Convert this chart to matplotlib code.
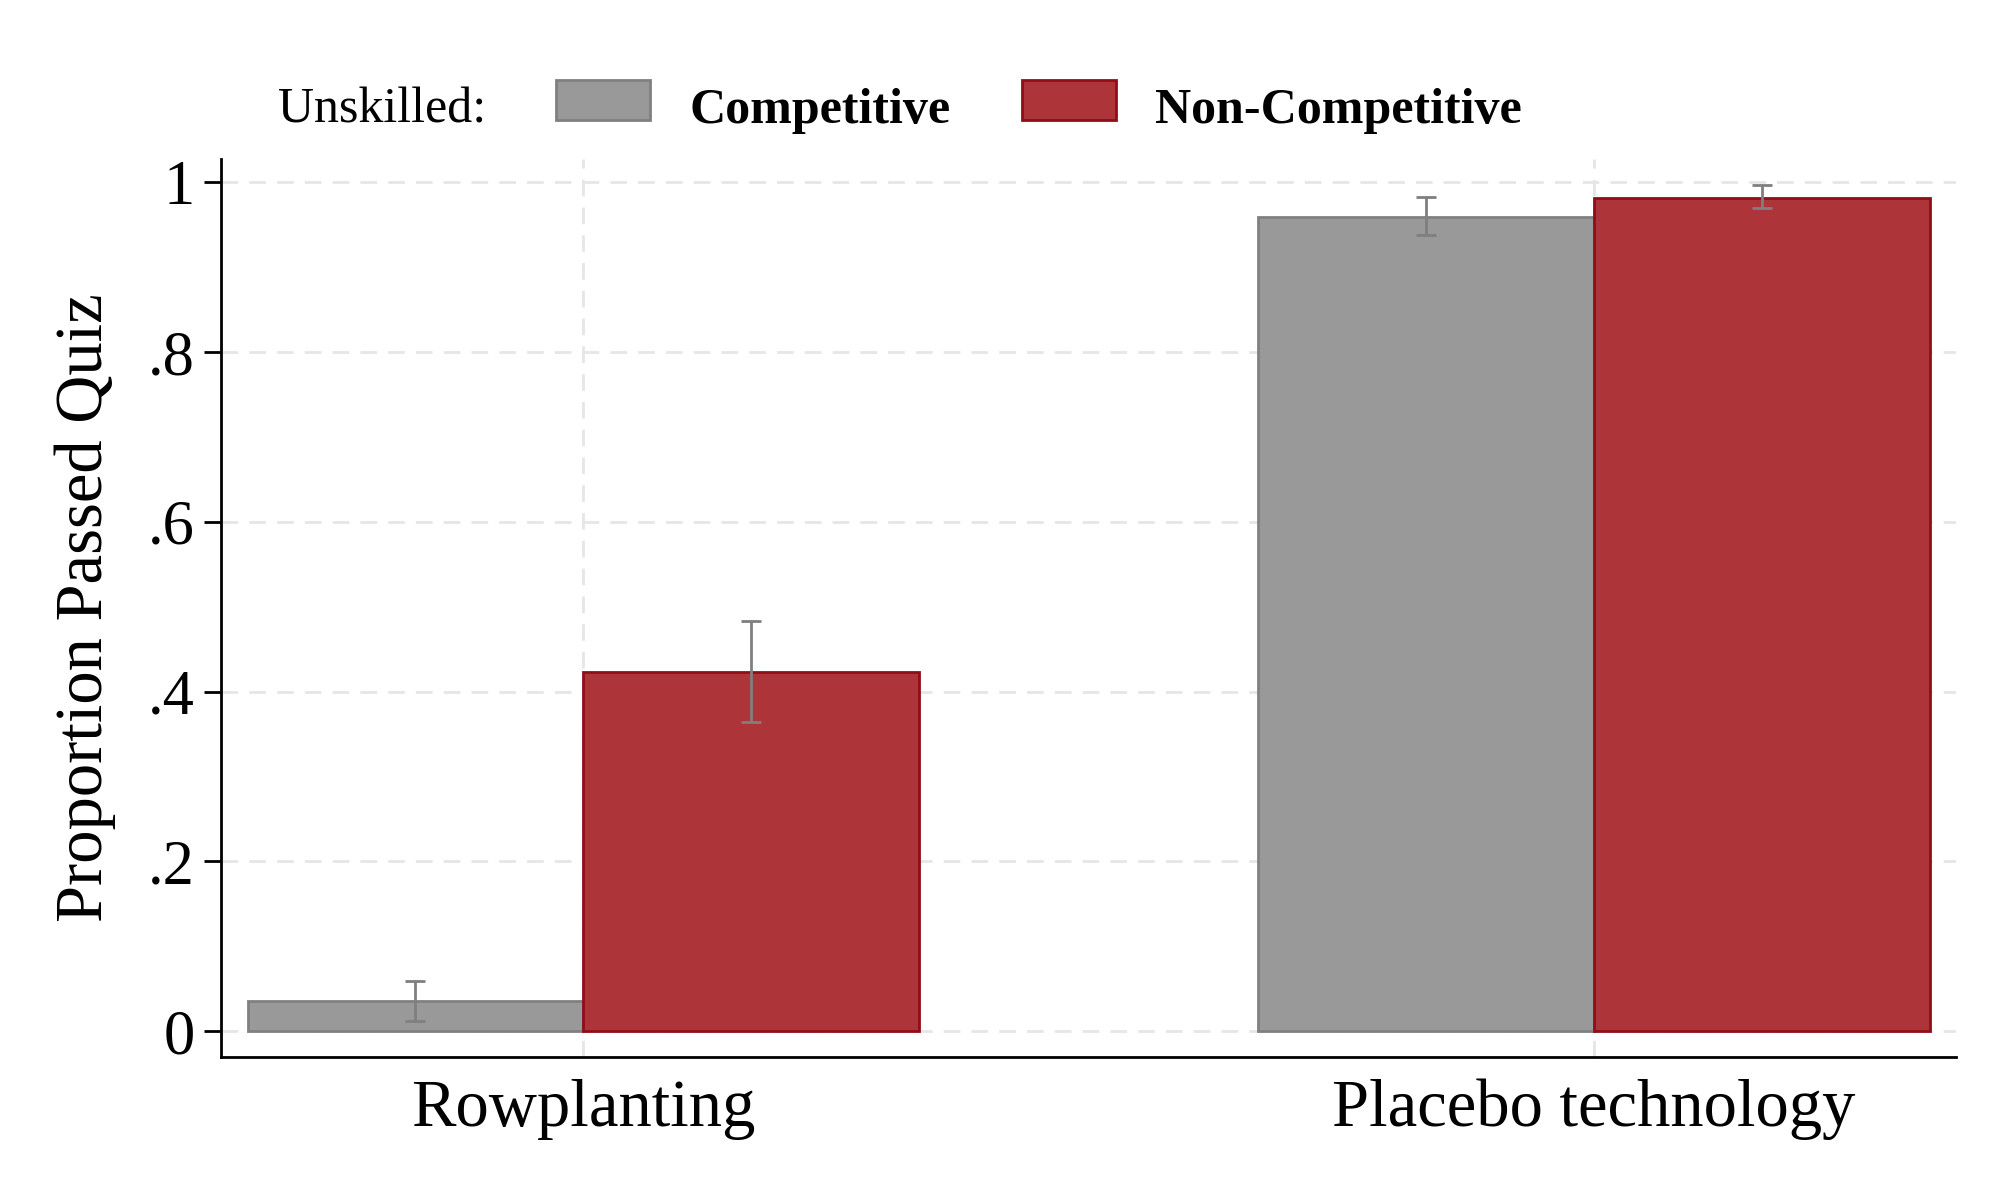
import matplotlib
matplotlib.use("Agg")
import matplotlib.pyplot as plt
from matplotlib.patches import Rectangle
import numpy as np

categories = ["Rowplanting", "Placebo technology"]
series_names = ["Competitive", "Non-Competitive"]
competitive = [0.036, 0.959]
competitive_lo = [0.012, 0.938]
competitive_hi = [0.059, 0.983]
noncompetitive = [0.423, 0.982]
noncompetitive_lo = [0.364, 0.970]
noncompetitive_hi = [0.483, 0.997]
yticks = [0, 0.2, 0.4, 0.6, 0.8, 1.0]
ytick_labels = ["0", ".2", ".4", ".6", ".8", "1"]

gray_fill = "#999999"
gray_edge = "#808080"
red_fill = "#AD353A"
red_edge = "#900D1A"
err_color = "#7F7F7F"

plt.rcParams["font.family"] = ["Liberation Serif", "DejaVu Serif"]

fig = plt.figure(figsize=(20, 12.01), dpi=100)
ax = fig.add_axes([0.1104, 0.1203, 0.978 - 0.1104, 0.8672 - 0.1203])

x = np.arange(len(categories))
w = 0.332

comp = np.array(competitive)
nonc = np.array(noncompetitive)
comp_err = np.array([comp - np.array(competitive_lo), np.array(competitive_hi) - comp])
nonc_err = np.array([nonc - np.array(noncompetitive_lo), np.array(noncompetitive_hi) - nonc])

ax.set_axisbelow(True)
ax.bar(x - w / 2, comp, width=w, color=gray_fill, edgecolor=gray_edge, linewidth=2, zorder=2)
ax.bar(x + w / 2, nonc, width=w, color=red_fill, edgecolor=red_edge, linewidth=2, zorder=2)
ax.errorbar(x - w / 2, comp, yerr=comp_err, fmt="none", ecolor=err_color, elinewidth=2,
            capsize=7, capthick=2, zorder=3)
ax.errorbar(x + w / 2, nonc, yerr=nonc_err, fmt="none", ecolor=err_color, elinewidth=2,
            capsize=7, capthick=2, zorder=3)

ax.set_xlim(-0.3585, 1.358)
ax.set_ylim(-0.030, 1.027)
ax.set_xticks(x)
ax.set_xticklabels(categories, fontsize=48)
ax.set_yticks(yticks)
ax.set_yticklabels(ytick_labels, fontsize=45)
ax.tick_params(axis="x", length=0, pad=16)
ax.tick_params(axis="y", length=12, width=2, pad=7)

ax.grid(True, axis="both", color="#E6E6E6", linestyle=(0, (6, 4)), linewidth=2)

for s in ["top", "right"]:
    ax.spines[s].set_visible(False)
for s in ["left", "bottom"]:
    ax.spines[s].set_linewidth(2)
    ax.spines[s].set_color("black")

ax.set_ylabel("Proportion Passed Quiz", fontsize=48)
ax.yaxis.set_label_coords(-0.0605, 0.5)

# Legend (drawn manually to match layout)
base_y = 0.898
fig.text(0.139, base_y, "Unskilled:", fontsize=36, va="baseline", ha="left")
box_w, box_h, box_y = 0.0468, 0.033, 0.9001
for bx, tx, name, fc, ec in [(0.278, 0.3445, series_names[0], gray_fill, gray_edge),
                             (0.511, 0.5775, series_names[1], red_fill, red_edge)]:
    fig.add_artist(Rectangle((bx, box_y), box_w, box_h, transform=fig.transFigure,
                             facecolor=fc, edgecolor=ec, linewidth=2))
    fig.text(tx, base_y, name, fontsize=36, fontweight="bold", va="baseline", ha="left")

fig.savefig("out.png", dpi=100, facecolor="white")
